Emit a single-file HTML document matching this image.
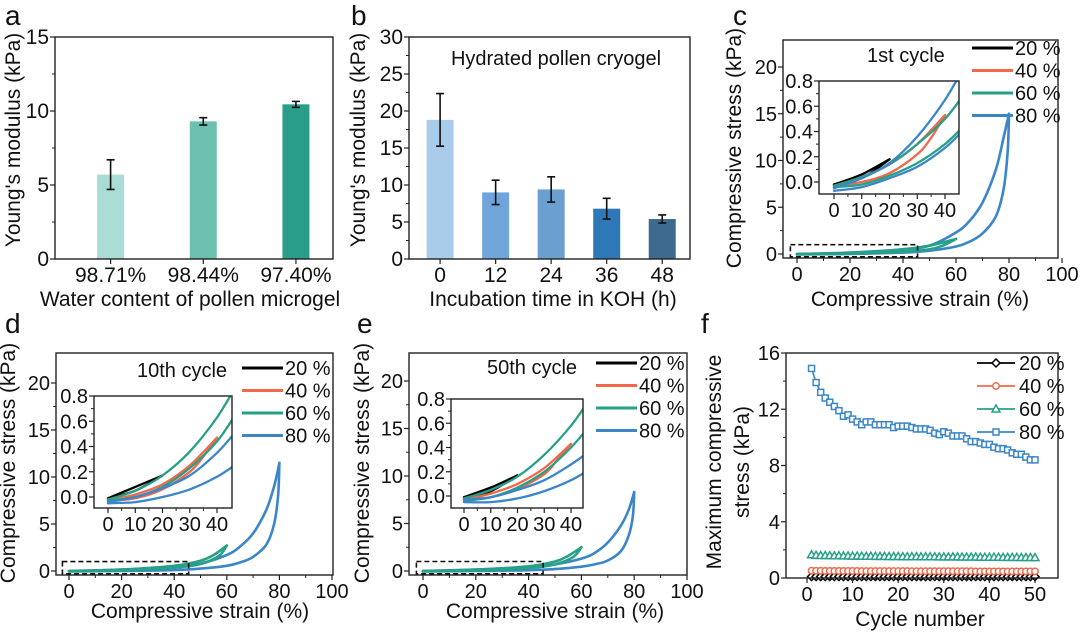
<!DOCTYPE html>
<html><head><meta charset="utf-8"><style>
html,body{margin:0;padding:0;background:#fff;}
svg{display:block;font-family:"Liberation Sans",Arial,sans-serif;}
</style></head><body>
<svg id="fig" width="1080" height="635" viewBox="0 0 1080 635"></svg>
<script>
// ---------- DATA ----------
const aCategories = ["98.71%","98.44%","97.40%"];
const aValues = [5.7, 9.3, 10.45];
const aErrors = [1.0, 0.25, 0.2];
const aYTicks = [0,5,10,15];

const bCategories = ["0","12","24","36","48"];
const bValues = [18.8, 9.0, 9.4, 6.8, 5.4];
const bErrors = [3.55, 1.65, 1.7, 1.4, 0.55];
const bYTicks = [0,5,10,15,20,25,30];

const strainTicks = [0,20,40,60,80,100];
const stressTicks = [0,5,10,15,20];
const insetXTicks = [0,10,20,30,40];
const insetYTicks = [0,0.2,0.4,0.6,0.8];
const legendLabels = ["20 %","40 %","60 %","80 %"];

const cBlueLoad = [[0,0],[20,0.15],[40,0.5],[50,0.9],[60,2.3],[65,3.5],[70,5.5],[75,9],[78,12.5],[80,15]];
const cBlueUnload = [[80,15],[79.5,11],[78,7],[75,4],[70,2.2],[65,1.3],[60,0.8],[50,0.35],[40,0.15],[20,0],[0,-0.05]];
const cGreenLoad = [[0,0],[20,0.1],[40,0.5],[50,0.9],[60,1.6]];
const cGreenUnload = [[60,1.6],[55,0.9],[50,0.5],[40,0.25],[20,0.03],[0,-0.03]];
const cInBlueLoad = [[0,-0.05],[10,0.03],[20,0.15],[30,0.36],[40,0.65],[47,0.92]];
const cInBlueUnload = [[47,0.42],[40,0.27],[30,0.12],[20,0.03],[10,-0.04],[0,-0.07]];
const cInGreenLoad = [[0,-0.03],[10,0.04],[20,0.14],[30,0.3],[40,0.5],[47,0.7]];
const cInGreenUnload = [[47,0.45],[40,0.3],[30,0.15],[20,0.05],[10,-0.02],[0,-0.04]];
const cInOrangeLoad = [[0,-0.03],[10,0.04],[20,0.14],[30,0.3],[40,0.53]];
const cInOrangeUnload = [[40,0.53],[35,0.35],[30,0.22],[20,0.07],[10,0],[0,-0.03]];
const cInBlackLoad = [[0,-0.02],[10,0.06],[20,0.18]];
const cInBlackUnload = [[20,0.18],[10,0.03],[0,-0.02]];

const dBlueLoad = [[0,0],[20,0.15],[40,0.45],[50,0.8],[60,1.7],[65,2.6],[70,4],[75,6.5],[78,9],[80,11.5]];
const dBlueUnload = [[80,11.5],[79.5,8],[78,5],[75,2.8],[70,1.5],[65,0.9],[60,0.55],[50,0.25],[40,0.1],[20,0],[0,-0.05]];
const dGreenLoad = [[0,0],[20,0.15],[40,0.55],[50,1.1],[55,1.7],[60,2.7]];
const dGreenUnload = [[60,2.7],[57,1.6],[50,0.75],[40,0.35],[20,0.05],[0,-0.03]];
const dInBlueLoad = [[0,-0.04],[10,0.0],[20,0.07],[30,0.17],[40,0.35],[47,0.52]];
const dInBlueUnload = [[47,0.26],[40,0.16],[30,0.06],[20,0.0],[10,-0.04],[0,-0.05]];
const dInGreenLoad = [[0,-0.02],[10,0.05],[20,0.17],[30,0.36],[40,0.63],[47,0.88]];
const dInGreenUnload = [[47,0.66],[40,0.44],[30,0.23],[20,0.08],[10,0],[0,-0.03]];
const dInOrangeLoad = [[0,-0.03],[10,0.02],[20,0.1],[30,0.25],[40,0.47]];
const dInOrangeUnload = [[40,0.47],[35,0.32],[30,0.2],[20,0.06],[10,-0.01],[0,-0.03]];
const dInBlackLoad = [[0,-0.01],[10,0.08],[20,0.17]];
const dInBlackUnload = [[20,0.17],[10,0.05],[0,-0.01]];

const eBlueLoad = [[0,0],[20,0.15],[40,0.4],[50,0.7],[60,1.3],[65,1.9],[70,3],[75,4.8],[78,6.5],[80,8.3]];
const eBlueUnload = [[80,8.3],[79.5,5.8],[78,3.8],[75,2.1],[70,1.1],[65,0.7],[60,0.45],[50,0.2],[40,0.08],[20,0],[0,-0.05]];
const eGreenLoad = [[0,0],[20,0.15],[40,0.5],[50,1.0],[55,1.6],[60,2.5]];
const eGreenUnload = [[60,2.5],[57,1.5],[50,0.7],[40,0.3],[20,0.05],[0,-0.03]];
const eInBlueLoad = [[0,-0.03],[10,-0.01],[20,0.05],[30,0.13],[40,0.26],[47,0.37]];
const eInBlueUnload = [[47,0.22],[40,0.13],[30,0.04],[20,-0.02],[10,-0.05],[0,-0.05]];
const eInGreenLoad = [[0,-0.02],[10,0.05],[20,0.16],[30,0.34],[40,0.58],[47,0.8]];
const eInGreenUnload = [[47,0.58],[40,0.4],[30,0.2],[20,0.07],[10,-0.01],[0,-0.04]];
const eInOrangeLoad = [[0,-0.03],[10,0.02],[20,0.1],[30,0.23],[40,0.43]];
const eInOrangeUnload = [[40,0.43],[35,0.3],[30,0.18],[20,0.06],[10,-0.01],[0,-0.03]];
const eInBlackLoad = [[0,-0.01],[10,0.07],[20,0.17]];
const eInBlackUnload = [[20,0.17],[10,0.04],[0,-0.01]];

const fCycles = [1,2,3,4,5,6,7,8,9,10,11,12,13,14,15,16,17,18,19,20,21,22,23,24,25,26,27,28,29,30,31,32,33,34,35,36,37,38,39,40,41,42,43,44,45,46,47,48,49,50];
const f80 = [14.9,13.9,13.2,12.8,12.5,12.2,11.9,11.5,11.6,11.3,11.1,10.9,11.1,11.1,10.9,10.9,10.9,10.9,10.7,10.8,10.8,10.8,10.7,10.6,10.6,10.6,10.5,10.3,10.2,10.4,10.3,10.1,10.1,10.1,9.9,9.7,9.7,9.6,9.5,9.5,9.3,9.2,9.2,9.1,8.9,8.8,8.8,8.6,8.4,8.4];
const f60 = [1.65,1.62,1.6,1.6,1.59,1.58,1.58,1.57,1.57,1.56,1.56,1.55,1.55,1.55,1.54,1.54,1.54,1.53,1.53,1.53,1.52,1.52,1.52,1.52,1.51,1.51,1.51,1.51,1.5,1.5,1.5,1.5,1.5,1.49,1.49,1.49,1.49,1.48,1.48,1.48,1.48,1.48,1.47,1.47,1.47,1.47,1.46,1.46,1.46,1.45];
const f40 = [0.52,0.51,0.51,0.5,0.5,0.5,0.5,0.5,0.5,0.5,0.5,0.49,0.49,0.49,0.49,0.49,0.49,0.49,0.49,0.49,0.49,0.49,0.48,0.48,0.48,0.48,0.48,0.48,0.48,0.48,0.48,0.48,0.48,0.48,0.48,0.48,0.47,0.47,0.47,0.47,0.47,0.47,0.47,0.47,0.47,0.47,0.47,0.47,0.47,0.47];
const f20 = [0.1,0.1,0.1,0.1,0.1,0.1,0.1,0.1,0.1,0.1,0.1,0.1,0.1,0.1,0.1,0.1,0.1,0.1,0.1,0.1,0.1,0.1,0.1,0.1,0.1,0.1,0.1,0.1,0.1,0.1,0.1,0.1,0.1,0.1,0.1,0.1,0.1,0.1,0.1,0.1,0.1,0.1,0.1,0.1,0.1,0.1,0.1,0.1,0.1,0.1];
const fXTicks = [0,10,20,30,40,50];
const fYTicks = [0,4,8,12,16];

// ---------- HELPERS ----------
const NS = "http://www.w3.org/2000/svg";
const svg = document.getElementById('fig');
const COL = {k:"#000000", o:"#f0694a", g:"#26a087", b:"#3a86c8"};
const TF = 20, TT = 21;
function mk(tag, attrs, parent){
  const e = document.createElementNS(NS, tag);
  for (const k in attrs) e.setAttribute(k, attrs[k]);
  (parent || svg).appendChild(e);
  return e;
}
function lin(d0, d1, r0, r1){ return v => r0 + (v - d0) / (d1 - d0) * (r1 - r0); }
function txt(parent, x, y, s, size, anchor, name, extra){
  const t = mk('text', Object.assign({x:x, y:y, 'font-size':size, 'text-anchor':anchor||'middle', fill:'#111'}, extra||{}), parent);
  t.textContent = s;
  
  
  return t;
}
function smooth(pts, sx, sy){
  const P = pts.map(p => [sx(p[0]), sy(p[1])]);
  let d = "M" + P[0][0].toFixed(1) + "," + P[0][1].toFixed(1);
  for (let i = 0; i < P.length - 1; i++){
    const p0 = P[Math.max(0,i-1)], p1 = P[i], p2 = P[i+1], p3 = P[Math.min(P.length-1,i+2)];
    const c1 = [p1[0] + (p2[0]-p0[0])/6, p1[1] + (p2[1]-p0[1])/6];
    const c2 = [p2[0] - (p3[0]-p1[0])/6, p2[1] - (p3[1]-p1[1])/6];
    d += " C" + c1.map(v=>v.toFixed(1)) + " " + c2.map(v=>v.toFixed(1)) + " " + p2.map(v=>v.toFixed(1));
  }
  return d;
}
function frame(g, x0, y0, x1, y1, name){
  const r = mk('rect', {x:x0, y:y0, width:x1-x0, height:y1-y0, fill:'none', stroke:'#222', 'stroke-width':1.4}, g);
  
  
}
function yAxis(g, x, sy, ticks, minorStep, fmt, size, name){
  const ax = mk('g', {}, g);
  
  
  ticks.forEach(v => {
    mk('line', {x1:x-5, x2:x, y1:sy(v), y2:sy(v), stroke:'#222', 'stroke-width':1.2}, ax);
    txt(ax, x-6, sy(v)+7, fmt(v), size, 'end', 'y-tick-label');
  });
  if (minorStep){
    const last = ticks[ticks.length-1];
    for (let v = ticks[0] + minorStep; v < last; v += 2*minorStep){
      mk('line', {x1:x-3, x2:x, y1:sy(v), y2:sy(v), stroke:'#222', 'stroke-width':1}, ax);
    }
  }
}
function xAxis(g, y, sx, ticks, minorStep, fmt, size, name){
  const ax = mk('g', {}, g);
  
  
  ticks.forEach((v,i) => {
    mk('line', {x1:sx(v), x2:sx(v), y1:y, y2:y+5, stroke:'#222', 'stroke-width':1.2}, ax);
    txt(ax, sx(v), y+23, fmt(v,i), size, 'middle', 'x-tick-label');
  });
  if (minorStep){
    const last = ticks[ticks.length-1];
    for (let v = ticks[0] + minorStep; v < last; v += 2*minorStep){
      mk('line', {x1:sx(v), x2:sx(v), y1:y, y2:y+3, stroke:'#222', 'stroke-width':1}, ax);
    }
  }
}
function panelLabel(x, y, s){
  txt(svg, x, y, s, 28, 'start', 'panel-label-' + s);
}
function yTitle(parent, x, y, s, name, size){
  txt(parent, x, y, s, size||TT, 'middle', name, {transform:'rotate(-90 '+x+' '+y+')'});
}

// ---------- BAR PANELS ----------
function barPanel(cfg){
  const g = mk('g', {}, svg);
  
  
  const sx = lin(cfg.xd[0], cfg.xd[1], cfg.x0, cfg.x1);
  const sy = lin(cfg.yd[0], cfg.yd[1], cfg.y1, cfg.y0);
  cfg.values.forEach((v,i) => {
    const r = mk('rect', {x:sx(i)-13.5, y:sy(v), width:27, height:sy(0)-sy(v), fill:cfg.colors[i]}, g);
    
    
    const e = mk('path', {d:`M${sx(i)},${sy(v+cfg.errors[i])}V${sy(v-cfg.errors[i])}M${sx(i)-4},${sy(v+cfg.errors[i])}h8M${sx(i)-4},${sy(v-cfg.errors[i])}h8`, stroke:'#111', 'stroke-width':1.6, fill:'none'}, g);
    
    
  });
  frame(g, cfg.x0, cfg.y0, cfg.x1, cfg.y1, 'plot-frame');
  yAxis(g, cfg.x0, sy, cfg.yticks, cfg.yticks[1]/2, v=>String(v), 21, 'y-axis');
  xAxis(g, cfg.y1, sx, cfg.values.map((v,i)=>i), 0, (v,i)=>cfg.cats[i], 21, 'x-axis');
  yTitle(g, cfg.ytx, (cfg.y0+cfg.y1)/2 - 8, "Young's modulus (kPa)", 'y-axis-title', 21);
  txt(g, cfg.xtx, 306, cfg.xtitle, 21, 'middle', 'x-axis-title');
  return g;
}
barPanel({name:'panel-a', x0:55, x1:333, y0:37, y1:259, xd:[-0.6,2.4], yd:[0,15], values:aValues, errors:aErrors, cats:aCategories,
  colors:['#a8dcd4','#6bc0b0','#2a9d8a'], yticks:aYTicks, ytx:20, xtx:190, xtitle:'Water content of pollen microgel'});
const gb = barPanel({name:'panel-b', x0:409, x1:690, y0:37, y1:259, xd:[-0.56,4.5], yd:[0,30], values:bValues, errors:bErrors, cats:bCategories,
  colors:['#a9cceb','#6fa5db','#6a9fcf','#2f78b8','#3e6a8f'], yticks:bYTicks, ytx:365, xtx:553, xtitle:'Incubation time in KOH (h)'});
txt(gb, 556, 65, 'Hydrated pollen cryogel', 20, 'middle', 'annotation-hydrated-pollen-cryogel');

// ---------- STRESS-STRAIN PANELS ----------
function loopPanel(cfg){
  const g = mk('g', {}, svg);
  
  
  const sx = lin(0, 100, cfg.xz, cfg.xh);
  const sy = lin(0, 20, cfg.yz, cfg.y20);
  const cid = cfg.name + '-clip';
  const cp = mk('clipPath', {id:cid}, g);
  mk('rect', {x:cfg.x0, y:cfg.y0, width:cfg.x1-cfg.x0, height:cfg.y1-cfg.y0}, cp);
  const cg = mk('g', {'clip-path':'url(#'+cid+')'}, g);
  const db = mk('rect', {x:sx(-2.5), y:sy(1.0), width:sx(45.5)-sx(-2.5), height:sy(-0.3)-sy(1.0), fill:'none', stroke:'#111', 'stroke-width':1.6, 'stroke-dasharray':'5,3'}, g);
  
  
  cfg.main.forEach(s => {
    [s.load, s.unload].forEach(arr => {
      const p = mk('path', {d:smooth(arr, sx, sy), fill:'none', stroke:s.color, 'stroke-width':2.6, 'stroke-linecap':'round'}, cg);
      
      
    });
  });
  frame(g, cfg.x0, cfg.y0, cfg.x1, cfg.y1, 'plot-frame');
  yAxis(g, cfg.x0, sy, stressTicks, 2.5, v=>String(v), TF, 'y-axis');
  xAxis(g, cfg.y1, sx, strainTicks, 10, v=>String(v), TF, 'x-axis');
  yTitle(g, cfg.ytx, cfg.yty, 'Compressive stress (kPa)', 'y-axis-title', TT);
  txt(g, cfg.xtx, cfg.xty, 'Compressive strain (%)', TT, 'middle', 'x-axis-title');
  txt(g, cfg.ttx, cfg.tty, cfg.title, 20, 'start', 'cycle-title');
  const ig = mk('g', {}, g);
  
  
  const I = cfg.inset;
  const isx = lin(0, 40, I.xz, I.x40);
  const isy = lin(0, 0.8, I.yz, I.y08);
  mk('rect', {x:I.x0, y:I.y0, width:I.x1-I.x0, height:I.y1-I.y0, fill:'#fff'}, ig);
  const icid = cfg.name + '-iclip';
  const icp = mk('clipPath', {id:icid}, ig);
  mk('rect', {x:I.x0, y:I.y0, width:I.x1-I.x0, height:I.y1-I.y0}, icp);
  const icg = mk('g', {'clip-path':'url(#'+icid+')'}, ig);
  I.series.forEach(s => {
    [s.load, s.unload].forEach(arr => {
      const p = mk('path', {d:smooth(arr, isx, isy), fill:'none', stroke:s.color, 'stroke-width':2.3, 'stroke-linecap':'round'}, icg);
      
      
    });
  });
  frame(ig, I.x0, I.y0, I.x1, I.y1, 'inset-frame');
  yAxis(ig, I.x0, isy, insetYTicks, 0.1, v=>v.toFixed(1), TF, 'inset-y-axis');
  xAxis(ig, I.y1, isx, insetXTicks, 5, v=>String(v), TF, 'inset-x-axis');
  const lg = mk('g', {}, g);
  
  
  [COL.k, COL.o, COL.g, COL.b].forEach((c,i) => {
    const y = cfg.ly + i*22.5;
    const l = mk('line', {x1:cfg.lx, x2:cfg.lx+41, y1:y, y2:y, stroke:c, 'stroke-width':3}, lg);
    
    
    txt(lg, cfg.lx+43, y+7, legendLabels[i], TF, 'start', 'legend-entry');
  });
}
function series(label, color, load, unload){ return {label, color, load, unload}; }
loopPanel({name:'panel-c', x0:783, x1:1058, y0:40, y1:258, xz:797, xh:1062, yz:254, y20:67,
  ytx:741, yty:148, xtx:920, xty:306, title:'1st cycle', ttx:867, tty:62, lx:972, ly:48,
  main:[series('80',COL.b,cBlueLoad,cBlueUnload), series('60',COL.g,cGreenLoad,cGreenUnload)],
  inset:{x0:819, x1:959, y0:81, y1:194, xz:834, x40:945, yz:182, y08:81,
    series:[series('20',COL.k,cInBlackLoad,cInBlackUnload), series('40',COL.o,cInOrangeLoad,cInOrangeUnload), series('60',COL.g,cInGreenLoad,cInGreenUnload), series('80',COL.b,cInBlueLoad,cInBlueUnload)]}});
loopPanel({name:'panel-d', x0:56, x1:333, y0:353, y1:575, xz:69, xh:332, yz:571, y20:383,
  ytx:15, yty:463, xtx:200, xty:618, title:'10th cycle', ttx:137, tty:377, lx:242, ly:368,
  main:[series('80',COL.b,dBlueLoad,dBlueUnload), series('60',COL.g,dGreenLoad,dGreenUnload)],
  inset:{x0:94, x1:232, y0:396, y1:508, xz:108, x40:217, yz:497, y08:396,
    series:[series('20',COL.k,dInBlackLoad,dInBlackUnload), series('40',COL.o,dInOrangeLoad,dInOrangeUnload), series('60',COL.g,dInGreenLoad,dInGreenUnload), series('80',COL.b,dInBlueLoad,dInBlueUnload)]}});
loopPanel({name:'panel-e', x0:409, x1:687, y0:353, y1:575, xz:423, xh:687, yz:571, y20:381,
  ytx:369, yty:463, xtx:555, xty:618, title:'50th cycle', ttx:487, tty:374, lx:596, ly:363,
  main:[series('80',COL.b,eBlueLoad,eBlueUnload), series('60',COL.g,eGreenLoad,eGreenUnload)],
  inset:{x0:451, x1:583, y0:399, y1:508, xz:464, x40:571, yz:496, y08:399,
    series:[series('20',COL.k,eInBlackLoad,eInBlackUnload), series('40',COL.o,eInOrangeLoad,eInOrangeUnload), series('60',COL.g,eInGreenLoad,eInGreenUnload), series('80',COL.b,eInBlueLoad,eInBlueUnload)]}});

// ---------- PANEL F ----------
(function(){
  const g = mk('g', {}, svg);
  
  
  const sx = lin(0, 50, 807, 1035);
  const sy = lin(0, 16, 578, 353);
  function marker(parent, type, x, y, c){
    let m;
    if (type === 'sq') m = mk('rect', {x:x-3, y:y-3, width:6, height:6}, parent);
    else if (type === 'ci') m = mk('circle', {cx:x, cy:y, r:3.2}, parent);
    else if (type === 'tr') m = mk('path', {d:`M${x},${y-4}L${x+4},${y+3}L${x-4},${y+3}Z`}, parent);
    else m = mk('path', {d:`M${x},${y-4}L${x+4},${y}L${x},${y+4}L${x-4},${y}Z`}, parent);
    m.setAttribute('fill', '#fff');
    m.setAttribute('stroke', c);
    m.setAttribute('stroke-width', 1.5);
    return m;
  }
  const S = [['20',f20,COL.k,'di'],['40',f40,COL.o,'ci'],['60',f60,COL.g,'tr'],['80',f80,COL.b,'sq']];
  S.forEach(s => {
    const sg = mk('g', {}, g);
    
    
    const d = s[1].map((v,i) => (i?'L':'M') + sx(fCycles[i]).toFixed(1) + ',' + sy(v).toFixed(1)).join('');
    const p = mk('path', {d:d, fill:'none', stroke:s[2], 'stroke-width':1.6}, sg);
    
    
    s[1].forEach((v,i) => {
      const m = marker(sg, s[3], sx(fCycles[i]), sy(v), s[2]);
      
      
    });
  });
  frame(g, 786, 353, 1058, 578, 'plot-frame');
  yAxis(g, 786, sy, fYTicks, 2, v=>String(v), TF, 'y-axis');
  xAxis(g, 578, sx, fXTicks, 5, v=>String(v), TF, 'x-axis');
  txt(g, 721, 462, 'Maximum compressive', TT, 'middle', 'y-axis-title-line1', {transform:'rotate(-90 721 462)'});
  txt(g, 749, 462, 'stress (kPa)', TT, 'middle', 'y-axis-title-line2', {transform:'rotate(-90 749 462)'});
  txt(g, 920, 626, 'Cycle number', TT, 'middle', 'x-axis-title');
  const lg = mk('g', {}, g);
  
  
  S.forEach((s,i) => {
    const y = 363 + i*23;
    const l = mk('line', {x1:977, x2:1015, y1:y, y2:y, stroke:s[2], 'stroke-width':1.8}, lg);
    
    
    marker(lg, s[3], 996, y, s[2]);
    txt(lg, 1019, y+7, legendLabels[i], TF, 'start', 'legend-entry');
  });
})();

panelLabel(5, 25, 'a');
panelLabel(351, 25, 'b');
panelLabel(733, 25, 'c');
panelLabel(5, 333, 'd');
panelLabel(357, 333, 'e');
panelLabel(701, 333, 'f');
</script>
</body></html>
